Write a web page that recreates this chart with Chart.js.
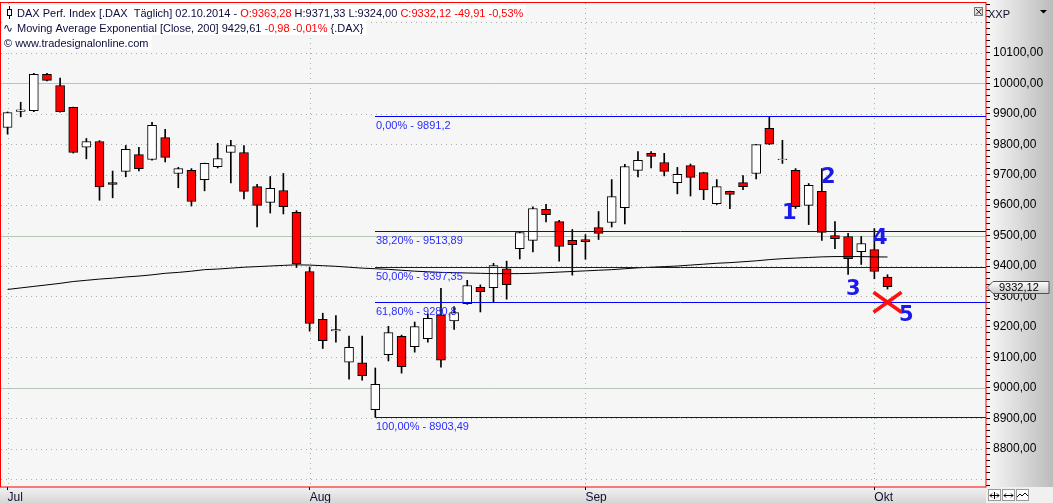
<!DOCTYPE html>
<html>
<head>
<meta charset="utf-8">
<script src="https://cdn.jsdelivr.net/npm/chart.js@4.4.0/dist/chart.umd.min.js"></script>
<style>
html, body { margin: 0; padding: 0; background: #fff; overflow: hidden; }
</style>
</head>
<body>
<canvas id="chart" width="1053" height="503"></canvas>
<script>
// trading days 01.07.2014 - 02.10.2014
var dates = [
  '01.07.','02.07.','03.07.','04.07.','07.07.','08.07.','09.07.','10.07.','11.07.','14.07.',
  '15.07.','16.07.','17.07.','18.07.','21.07.','22.07.','23.07.','24.07.','25.07.','28.07.',
  '29.07.','30.07.','31.07.','01.08.','04.08.','05.08.','06.08.','07.08.','08.08.','11.08.',
  '12.08.','13.08.','14.08.','15.08.','18.08.','19.08.','20.08.','21.08.','22.08.','25.08.',
  '26.08.','27.08.','28.08.','29.08.','01.09.','02.09.','03.09.','04.09.','05.09.','08.09.',
  '09.09.','10.09.','11.09.','12.09.','15.09.','16.09.','17.09.','18.09.','19.09.','22.09.',
  '23.09.','24.09.','25.09.','26.09.','29.09.','30.09.','01.10.','02.10.'
];
var emptySlots = ['03.10.','06.10.','07.10.','08.10.','09.10.','10.10.','13.10.'];

var opens = [
  9855, 9908, 9910, 10030, 9993, 9921, 9790, 9809, 9674, 9711,
  9766, 9750, 9822, 9704, 9714, 9684, 9726, 9773, 9773, 9661,
  9609, 9648, 9576, 9382, 9225, 9187, 9084, 9082, 8928, 9109,
  9169, 9135, 9161, 9240, 9220, 9276, 9330, 9329, 9391, 9457,
  9484, 9586, 9546, 9484, 9487, 9526, 9543, 9592, 9714, 9770,
  9740, 9674, 9730, 9707, 9605, 9645, 9674, 9704, 9852, 9749,
  9714, 9599, 9645, 9500, 9497, 9447, 9454, 9363.28
];
var highs = [
  9906, 9938, 10033, 10033, 10017, 9922, 9819, 9812, 9712, 9796,
  9790, 9872, 9849, 9724, 9720, 9738, 9803, 9813, 9796, 9668,
  9694, 9704, 9582, 9397, 9245, 9237, 9170, 9170, 9065, 9202,
  9173, 9216, 9243, 9327, 9267, 9353, 9338, 9409, 9416, 9511,
  9594, 9603, 9550, 9520, 9503, 9579, 9684, 9734, 9776, 9776,
  9770, 9724, 9735, 9708, 9684, 9646, 9697, 9800, 9891.2, 9813,
  9720, 9671, 9720, 9546, 9507, 9497, 9523, 9371.33
];
var lows = [
  9833, 9890, 9907, 10008, 9905, 9771, 9752, 9616, 9624, 9693,
  9712, 9748, 9742, 9657, 9597, 9647, 9722, 9673, 9620, 9528,
  9574, 9571, 9395, 9186, 9129, 9150, 9028, 9025, 8903.49, 9088,
  9048, 9117, 9150, 9068, 9192, 9274, 9249, 9280, 9291, 9423,
  9446, 9545, 9416, 9370, 9422, 9487, 9528, 9538, 9693, 9722,
  9696, 9637, 9630, 9618, 9602, 9588, 9651, 9686, 9799, 9737,
  9589, 9536, 9484, 9457, 9372, 9405, 9358, 9324.00
];
var closes = [
  9904, 9913, 10030, 10010, 9907, 9773, 9809, 9660, 9668, 9783,
  9720, 9862, 9757, 9720, 9612, 9737, 9753, 9796, 9645, 9599,
  9655, 9595, 9408, 9211, 9155, 9191, 9133, 9040, 9011, 9181,
  9069, 9201, 9228, 9091, 9247, 9336, 9316, 9401, 9339, 9510,
  9589, 9569, 9464, 9470, 9480, 9507, 9628, 9727, 9747, 9760,
  9711, 9701, 9691, 9651, 9661, 9635, 9661, 9799, 9800, 9751,
  9595, 9665, 9510, 9490, 9424, 9474, 9382.03, 9332.12
];
var ema200 = [
  9323, 9328, 9333, 9338, 9343, 9349, 9353, 9357, 9360, 9364,
  9367, 9371, 9376, 9379, 9383, 9388, 9390, 9393, 9396, 9398,
  9400, 9402, 9404, 9403, 9401, 9399, 9396, 9393, 9391, 9389,
  9386, 9383, 9381, 9379, 9378, 9377, 9376, 9375, 9375, 9375,
  9376, 9378, 9380, 9382, 9384, 9386, 9388, 9391, 9394, 9396,
  9398, 9400, 9403, 9406, 9409, 9411, 9414, 9417, 9421, 9424,
  9426, 9428, 9430, 9431, 9431, 9431, 9430, 9429.61
];

// Fibonacci retracement from the low of 08.08. to the high of 19.09.
var fibStart = '08.08.';
var fibPercents = ['0,00%', '38,20%', '50,00%', '61,80%', '100,00%'];
var fibLevels = [9891.2, 9513.89, 9397.35, 9280.8, 8903.49];
var fibTexts = ['9891,2', '9513,89', '9397,35', '9280,8', '8903,49'];

var monthNames = { '07': 'Jul', '08': 'Aug', '09': 'Sep', '10': 'Okt' };
var wavePoints = ['1', '2', '3', '4', '5'];

var FONT = 'Liberation Sans';
var NAVY = '#0c0c3c';

function de(v, d) {
  return v.toFixed(d).replace('.', ',');
}
function monthLabel(i) {
  if (i >= dates.length) return '';
  var m = dates[i].substr(3, 2);
  if (i === 0 || dates[i - 1].substr(3, 2) !== m) return monthNames[m];
  return '';
}

var labels = dates.concat(emptySlots);
var bodies = opens.map(function (o, i) { return [o, closes[i]]; });
var wicks = lows.map(function (l, i) { return [l, highs[i]]; });

var backdrop = {
  id: 'backdrop',
  beforeDraw: function (chart) {
    var c = chart.ctx, a = chart.chartArea, W = chart.width, H = chart.height;
    c.save();
    c.fillStyle = '#ffffff';
    c.fillRect(0, 0, W, H);
    c.fillStyle = '#f6f6f6';
    c.fillRect(a.left, a.top, a.right - a.left, a.bottom - a.top);
    var g = c.createLinearGradient(a.right, 0, W, 0);
    g.addColorStop(0, '#f8f8f8');
    g.addColorStop(1, '#bcbcbc');
    c.fillStyle = g;
    c.fillRect(a.right, 0, W - a.right, a.bottom);
    var g2 = c.createLinearGradient(0, a.bottom, 0, H);
    g2.addColorStop(0, '#f2f2f2');
    g2.addColorStop(1, '#d6d6d6');
    c.fillStyle = g2;
    c.fillRect(0, a.bottom, a.right, H - a.bottom);
    c.fillStyle = '#f0f0f0';
    c.fillRect(a.right, a.bottom, W - a.right, H - a.bottom);
    c.restore();
  },
  beforeDatasetsDraw: function (chart) {
    var c = chart.ctx, a = chart.chartArea;
    var ys = chart.scales.y, xs = chart.scales.x;
    c.save();
    c.lineWidth = 1;
    for (var v = 8700; v <= 10200; v += 100) {
      var y = Math.round(ys.getPixelForValue(v)) + 0.5;
      var solid = (v % 500 === 0);
      c.strokeStyle = solid ? '#b6c6b6' : '#9fb79f';
      c.setLineDash(solid ? [] : [1, 4]);
      c.beginPath();
      c.moveTo(a.left, y);
      c.lineTo(a.right, y);
      c.stroke();
    }
    c.strokeStyle = '#9fb79f';
    c.setLineDash([1, 4]);
    for (var i = 0; i < dates.length; i++) {
      if (!monthLabel(i)) continue;
      var x = Math.round(xs.getPixelForValue(i)) + 0.5;
      c.beginPath();
      c.moveTo(x, a.top);
      c.lineTo(x, a.bottom);
      c.stroke();
    }
    c.restore();
  }
};

var overlay = {
  id: 'overlay',
  afterDatasetsDraw: function (chart) {
    var c = chart.ctx, a = chart.chartArea;
    var ys = chart.scales.y, xs = chart.scales.x;
    var x0 = Math.round(xs.getPixelForValue(dates.indexOf(fibStart)));
    c.save();
    c.lineWidth = 1;
    c.font = '11px "' + FONT + '"';
    fibLevels.forEach(function (lv, k) {
      var y = Math.round(ys.getPixelForValue(lv)) + 0.5;
      c.strokeStyle = '#0000ff';
      c.beginPath();
      c.moveTo(x0, y);
      c.lineTo(a.right, y);
      c.stroke();
      c.fillStyle = '#2b2bff';
      c.textBaseline = 'alphabetic';
      c.fillText(fibPercents[k] + ' - ' + fibTexts[k], x0 + 1, y + 12.5);
    });

    // wave count and target cross
    var marks = [[59.52, 9577], [62.5, 9693], [64.4, 9327], [66.46, 9494], [68.44, 9241]];
    c.font = 'bold 21px "DejaVu Sans"';
    c.textAlign = 'center';
    c.textBaseline = 'middle';
    c.fillStyle = '#1a1aee';
    wavePoints.forEach(function (t, k) {
      c.fillText(t, xs.getPixelForValue(marks[k][0]), ys.getPixelForValue(marks[k][1]) + 1);
    });
    var cx = xs.getPixelForValue(dates.length - 1), cy = ys.getPixelForValue(fibLevels[3]);
    c.strokeStyle = '#ff1010';
    c.lineWidth = 3.5;
    c.beginPath();
    c.moveTo(cx - 14, cy - 10); c.lineTo(cx + 14, cy + 10);
    c.moveTo(cx - 14, cy + 10); c.lineTo(cx + 14, cy - 10);
    c.stroke();
    c.restore();
  },
  afterDraw: function (chart) {
    var c = chart.ctx, a = chart.chartArea;
    var ys = chart.scales.y;
    c.save();
    c.font = '11px "' + FONT + '"';
    c.textBaseline = 'alphabetic';
    c.textAlign = 'left';

    function line(parts, x, base) {
      var w = 0;
      parts.forEach(function (p) { w += c.measureText(p[0]).width; });
      c.fillStyle = '#ffffff';
      c.fillRect(2, base - 12, x - 2 + w + 3, 15);
      var px = x;
      parts.forEach(function (p) {
        c.fillStyle = p[1];
        c.fillText(p[0], px, base);
        px += c.measureText(p[0]).width;
      });
    }
    var last = dates.length - 1;
    var chg = closes[last] - closes[last - 1];
    line([
      ['DAX Perf. Index [.DAX  Täglich] ' + '02.10.2014 - ', NAVY],
      ['O:' + de(opens[last], 2) + ' ', '#ff0000'],
      ['H:' + de(highs[last], 2) + ' L:' + de(lows[last], 2) + ' ', NAVY],
      ['C:' + de(closes[last], 2) + ' ' + de(chg, 2) + ' ' + de(chg / closes[last - 1] * 100, 2) + '%', '#ff0000']
    ], 17, 17);
    line([
      ['Moving Average Exponential [Close, 200] ' + de(ema200[last], 2) + ' ', NAVY],
      ['-0,98 -0,01%', '#ff0000'],
      [' {.DAX}', NAVY]
    ], 17, 32);
    line([['\u00a9 www.tradesignalonline.com', NAVY]], 4, 47);

    // small icons
    c.strokeStyle = '#000';
    c.lineWidth = 1;
    c.beginPath();
    c.moveTo(9.5, 6); c.lineTo(9.5, 19);
    c.stroke();
    c.fillStyle = '#fff';
    c.fillRect(7, 9, 5, 6);
    c.strokeRect(7.5, 9.5, 4, 6);
    c.fillStyle = NAVY;
    c.font = '12px "DejaVu Sans"';
    c.fillText('\u223f', 3, 32);

    // plot frame
    c.strokeStyle = '#ff0000';
    c.lineWidth = 1;
    c.strokeRect(0.5, a.top - 0.5, a.right - 0.5, a.bottom - a.top + 0.5);

    // close box
    c.fillStyle = '#e2e2e2';
    c.fillRect(974, 7, 9, 9);
    c.strokeStyle = '#777';
    c.strokeRect(974.5, 7.5, 8, 8);
    c.strokeStyle = '#222';
    c.beginPath();
    c.moveTo(976, 9); c.lineTo(981.5, 14.5);
    c.moveTo(981.5, 9); c.lineTo(976, 14.5);
    c.stroke();

    // axis caption
    c.font = '11px "' + FONT + '"';
    c.fillStyle = '#101030';
    c.fillText('XXP', 988, 18);
    c.fillStyle = '#000';
    c.beginPath();
    c.moveTo(1040, 10); c.lineTo(1047, 10); c.lineTo(1043.5, 13.5);
    c.closePath();
    c.fill();

    // last price marker
    var py = Math.round(ys.getPixelForValue(closes[last])) + 0.5;
    var g = c.createLinearGradient(0, py - 6, 0, py + 6);
    g.addColorStop(0, '#ffffff');
    g.addColorStop(1, '#c8c8c8');
    c.fillStyle = g;
    c.beginPath();
    c.moveTo(987, py);
    c.lineTo(993, py - 6);
    c.lineTo(1049, py - 6);
    c.lineTo(1049, py + 6);
    c.lineTo(993, py + 6);
    c.closePath();
    c.fill();
    c.strokeStyle = '#505050';
    c.stroke();
    c.fillStyle = '#000';
    c.textBaseline = 'middle';
    c.fillText(de(closes[last], 2), 999, py + 0.5);

    // bottom-right buttons
    c.lineWidth = 1;
    [988, 1002, 1016].forEach(function (bx, k) {
      c.fillStyle = '#ffffff';
      c.fillRect(bx, 489, 13, 12);
      c.strokeStyle = '#999';
      c.strokeRect(bx + 0.5, 489.5, 12, 11);
      c.strokeStyle = '#000';
      c.beginPath();
      if (k < 2) {
        c.moveTo(bx + 2, 495.5); c.lineTo(bx + 11, 495.5);
        c.moveTo(bx + 4, 493.5); c.lineTo(bx + 2, 495.5); c.lineTo(bx + 4, 497.5);
        c.moveTo(bx + 9, 493.5); c.lineTo(bx + 11, 495.5); c.lineTo(bx + 9, 497.5);
        if (k === 0) { c.moveTo(bx + 6.5, 492); c.lineTo(bx + 6.5, 499); }
      } else {
        c.moveTo(bx + 1, 497); c.lineTo(bx + 4, 494); c.lineTo(bx + 6, 496);
        c.lineTo(bx + 9, 493); c.lineTo(bx + 12, 496);
      }
      c.stroke();
    });
    c.restore();
  }
};

new Chart(document.getElementById('chart'), {
  type: 'bar',
  data: {
    labels: labels,
    datasets: [
      {
        type: 'line',
        label: 'EMA 200',
        data: ema200,
        borderColor: '#000000',
        borderWidth: 1,
        pointRadius: 0,
        tension: 0,
        order: 0
      },
      {
        label: 'Body',
        data: bodies,
        backgroundColor: function (ctx) {
          var i = ctx.dataIndex;
          return closes[i] < opens[i] ? '#ff0000' : '#ffffff';
        },
        borderColor: '#000000',
        borderWidth: 1,
        borderSkipped: false,
        barThickness: 9,
        grouped: false,
        order: 1
      },
      {
        label: 'Wick',
        data: wicks,
        backgroundColor: '#000000',
        borderWidth: 0,
        barThickness: 1,
        grouped: false,
        order: 2
      }
    ]
  },
  options: {
    responsive: false,
    animation: false,
    devicePixelRatio: 1,
    layout: { padding: { left: 1, top: 3, right: 0, bottom: 0 } },
    plugins: {
      legend: { display: false },
      tooltip: { enabled: false }
    },
    scales: {
      x: {
        type: 'category',
        offset: true,
        border: { display: false },
        grid: {
          offset: false,
          drawOnChartArea: false,
          tickLength: 3,
          tickColor: function (ctx) { return monthLabel(ctx.index) ? '#000' : 'rgba(0,0,0,0)'; }
        },
        ticks: {
          autoSkip: false,
          maxRotation: 0,
          minRotation: 0,
          align: 'start',
          padding: 0,
          color: '#101030',
          font: { family: FONT, size: 12 },
          callback: function (v, i) { return monthLabel(i); }
        },
        afterFit: function (s) {
          s.height = 16;
          s.paddingLeft = 0;
          s.paddingRight = 0;
        }
      },
      y: {
        position: 'right',
        min: 8674,
        max: 10264,
        border: { display: false },
        grid: {
          drawOnChartArea: false,
          tickLength: 4,
          tickColor: '#000'
        },
        afterBuildTicks: function (s) {
          var t = [];
          for (var v = 8680; v <= 10260; v += 20) t.push({ value: v });
          s.ticks = t;
        },
        ticks: {
          autoSkip: false,
          padding: 3,
          color: '#000',
          font: { family: FONT, size: 12 },
          callback: function (v) { return (v % 100 === 0 && v >= 8800 && v <= 10100) ? de(v, 2) : ''; }
        },
        afterFit: function (s) {
          s.width = 67;
          s.paddingTop = 0;
          s.paddingBottom = 0;
        }
      }
    }
  },
  plugins: [backdrop, overlay]
});
</script>
</body>
</html>
